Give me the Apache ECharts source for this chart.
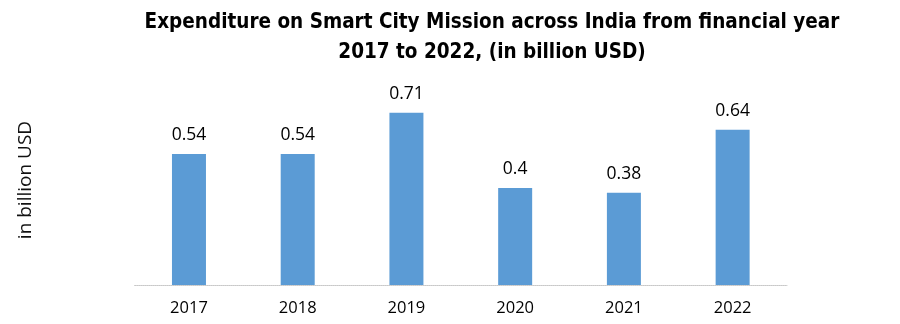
<!DOCTYPE html>
<html>
<head>
<meta charset="utf-8">
<script src="https://cdn.jsdelivr.net/npm/echarts@6/dist/echarts.min.js"></script>
<style>
  html, body { margin: 0; padding: 0; background: #fff; }
  #chart { width: 900px; height: 324px; }
</style>
</head>
<body>
<div id="chart"></div>
<script>
// Smart City Mission expenditure by financial year
const years = ['2017', '2018', '2019', '2020', '2021', '2022'];
const spending = [0.54, 0.54, 0.71, 0.4, 0.38, 0.64];
const titleLines = ['Expenditure on Smart City Mission across India from financial year', '2017 to 2022, (in billion USD)'];
const yAxisTitle = 'in billion USD';

const chart = echarts.init(document.getElementById('chart'));
chart.setOption({
  backgroundColor: '#ffffff',
  animation: false,
  title: {
    text: titleLines.join('\n'),
    left: 487,
    textAlign: 'center',
    top: 3,
    textStyle: {
      fontFamily: '"Liberation Sans Narrow", "DejaVu Sans Condensed", sans-serif',
      fontWeight: 'bold',
      fontSize: 20.5,
      lineHeight: 30,
      color: '#000000'
    }
  },
  graphic: [{
    type: 'text',
    x: 26,
    y: 180,
    rotation: Math.PI / 2,
    style: {
      text: yAxisTitle,
      fontFamily: '"Open Sans", sans-serif',
      fontSize: 19,
      fill: '#111111',
      textAlign: 'center',
      textVerticalAlign: 'middle'
    }
  }],
  grid: { left: 134.6, right: 113, top: 91, bottom: 39 },
  xAxis: {
    type: 'category',
    data: years,
    axisLine: { lineStyle: { color: '#c8c8c8', type: [1, 1], width: 1 } },
    axisTick: { show: false },
    axisLabel: {
      margin: 15,
      fontFamily: '"Open Sans", sans-serif',
      fontSize: 16.5,
      color: '#000000'
    }
  },
  yAxis: {
    type: 'value',
    min: 0,
    max: 0.8,
    axisLine: { show: false },
    axisTick: { show: false },
    axisLabel: { show: false },
    splitLine: { show: false }
  },
  series: [{
    type: 'bar',
    data: spending,
    barWidth: 34,
    itemStyle: { color: '#5b9bd5' },
    label: {
      show: true,
      position: 'top',
      distance: 10,
      fontFamily: '"Open Sans", sans-serif',
      fontSize: 17.5,
      color: '#000000'
    }
  }]
});
</script>
</body>
</html>
